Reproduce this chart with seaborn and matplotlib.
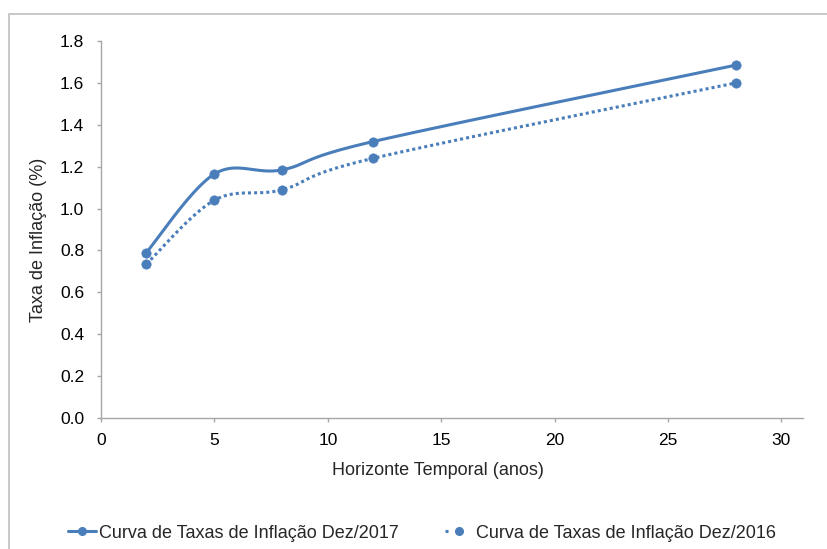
import numpy as np
import pandas as pd
import matplotlib
matplotlib.use("Agg")
import matplotlib.pyplot as plt
import seaborn as sns
from matplotlib.lines import Line2D
from matplotlib.patches import Rectangle

# Horizonte temporal (anos) e taxas de inflação (%)
horizonte = [2, 5, 8, 12, 28]
taxas_dez2017 = [0.79, 1.165, 1.185, 1.32, 1.685]
taxas_dez2016 = [0.735, 1.04, 1.09, 1.24, 1.60]
serie_2017 = "Curva de Taxas de Inflação Dez/2017"
serie_2016 = "Curva de Taxas de Inflação Dez/2016"
yticks = [0.0, 0.2, 0.4, 0.6, 0.8, 1.0, 1.2, 1.4, 1.6, 1.8]
xticks = [0, 5, 10, 15, 20, 25, 30]

AZUL = "#4a7ebb"
CINZA = "#a6a6a6"
LW = 2.2
PONTILHADO = (0, (1, 1))

sns.set_style("white")
plt.rcParams["font.family"] = ["Liberation Sans", "DejaVu Sans"]

W, H = 827, 549
fig = plt.figure(figsize=(W / 100, H / 100), dpi=100)
ax = fig.add_axes([101 / W, 1 - 418 / H, (803 - 101) / W, (418 - 41) / H])

XMAX, YMAX = 30.95, 1.8
ax.set_xlim(0, XMAX)
ax.set_ylim(0, YMAX)


def curva_suave(x, y, n=40):
    """Cubic Bezier smoothing through every point (Catmull-Rom tangents),
    computed in screen-proportional units so the curve shape follows the axes."""
    sx = 702 / XMAX
    sy = 377 / YMAX
    p = np.column_stack([np.asarray(x, float) * sx, np.asarray(y, float) * sy])
    m = len(p)
    pts = []
    for i in range(m - 1):
        p0 = p[i - 1] if i > 0 else p[i]
        p1, p2 = p[i], p[i + 1]
        p3 = p[i + 2] if i + 2 < m else p[i + 1]
        c1 = p1 + (p2 - p0) / 6
        c2 = p2 - (p3 - p1) / 6
        t = np.linspace(0, 1, n)[:, None]
        seg = ((1 - t) ** 3) * p1 + 3 * ((1 - t) ** 2) * t * c1 + 3 * (1 - t) * t ** 2 * c2 + t ** 3 * p2
        pts.append(seg if i == 0 else seg[1:])
    pts = np.vstack(pts)
    return pts[:, 0] / sx, pts[:, 1] / sy


for vals, estilo in [(taxas_dez2017, "-"), (taxas_dez2016, PONTILHADO)]:
    xs, ys = curva_suave(horizonte, vals)
    df = pd.DataFrame({"x": xs, "y": ys})
    sns.lineplot(data=df, x="x", y="y", sort=False, estimator=None, ax=ax,
                 color=AZUL, lw=LW, linestyle=estilo)
    pts = pd.DataFrame({"x": horizonte, "y": vals})
    sns.scatterplot(data=pts, x="x", y="y", ax=ax, color=AZUL, s=45,
                    edgecolor=AZUL, linewidth=0.5, zorder=5)

ax.set_xticks(xticks)
ax.set_yticks(yticks)
ax.set_xticklabels([str(v) for v in xticks], fontsize=12.5)
ax.set_yticklabels([f"{v:.1f}" for v in yticks], fontsize=12.5)
ax.tick_params(axis="both", direction="out", length=3, width=1, color=CINZA,
               labelcolor="black", bottom=True, left=True)
ax.tick_params(axis="x", pad=8)
ax.tick_params(axis="y", pad=9)
for s in ["top", "right"]:
    ax.spines[s].set_visible(False)
for s in ["left", "bottom"]:
    ax.spines[s].set_color(CINZA)
    ax.spines[s].set_linewidth(1)
ax.set_xlabel("Horizonte Temporal (anos)", fontsize=13)
ax.set_ylabel("Taxa de Inflação (%)", fontsize=13)
ax.xaxis.set_label_coords((438 - 101) / 702, (418 - 462) / 377)
ax.yaxis.set_label_coords((47 - 101) / 702, (418 - 240) / 377)

# Legend keys: the dotted key is short enough to show a single dot before the marker
handles = [
    Line2D([], [], color=AZUL, lw=LW, marker="o", markersize=5.5),
    Line2D([], [], color=AZUL, lw=LW, linestyle=(0, (1, 20)), marker="o", markersize=5.5),
]
fig.legend(handles, [serie_2017, serie_2016], loc="center", ncol=2,
           bbox_to_anchor=(422 / W, 1 - 533 / H), frameon=False, fontsize=13,
           handlelength=1.55, handletextpad=0.15, columnspacing=2.6,
           borderpad=0, borderaxespad=0)

# Moldura da área do gráfico
fig.add_artist(Rectangle((9 / W, -0.5), 1.5, 0.5 + (1 - 14 / H), transform=fig.transFigure,
                         fill=False, edgecolor="#bfbfbf", lw=1.2, clip_on=False))

fig.savefig("out.png", dpi=100)
